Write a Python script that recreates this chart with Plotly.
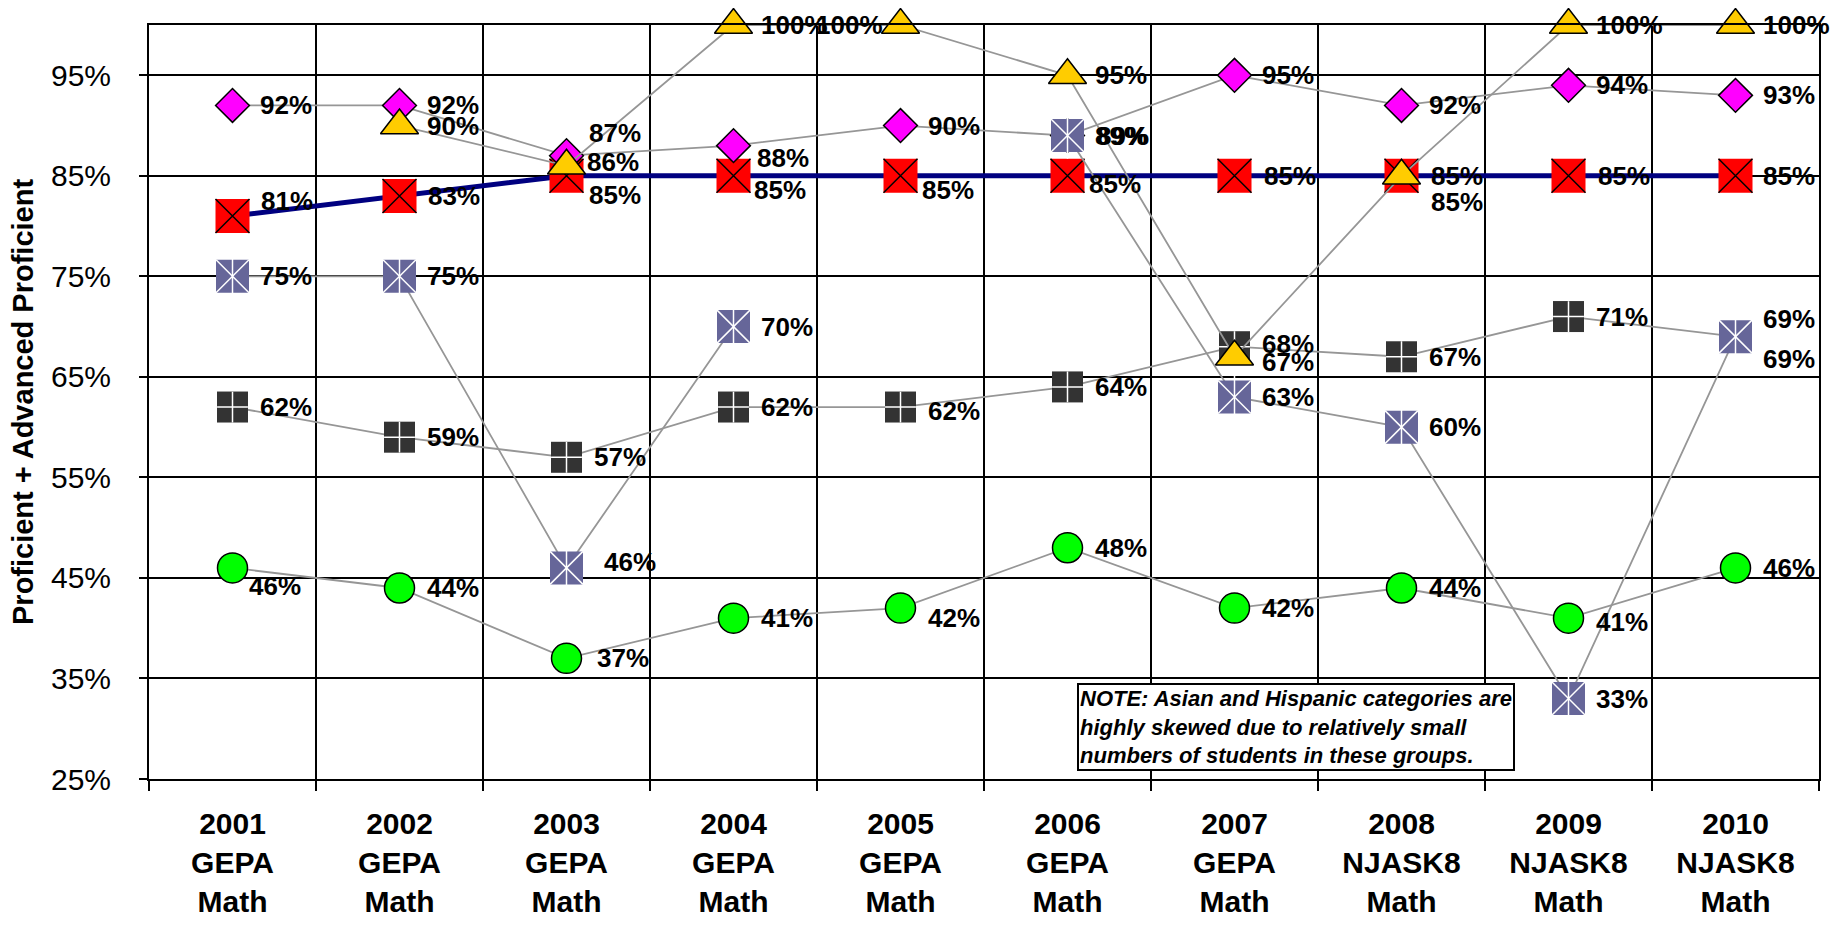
import plotly.graph_objects as go

# ---------------- data ----------------
years = ["2001", "2002", "2003", "2004", "2005", "2006", "2007", "2008", "2009", "2010"]
tests = ["GEPA", "GEPA", "GEPA", "GEPA", "GEPA", "GEPA", "GEPA", "NJASK8", "NJASK8", "NJASK8"]
subject = "Math"
categories = [f"{y}<br>{t}<br>{subject}" for y, t in zip(years, tests)]

total = [92, 92, 87, 88, 90, 89, 95, 92, 94, 93]
hispanic = [None, 90, 86, 100, 100, 95, 67, 85, 100, 100]
asian = [75, 75, 46, 70, None, 89, 63, 60, 33, 69]
black = [62, 59, 57, 62, 62, 64, 68, 67, 71, 69]
econ = [46, 44, 37, 41, 42, 48, 42, 44, 41, 46]
target = [81, 83, 85, 85, 85, 85, 85, 85, 85, 85]

y_ticks = [25, 35, 45, 55, 65, 75, 85, 95]

# ---------------- label offsets (pixels, style only) ----------------
D = 25
off_total = dict(dx=[D, D, 20, 21, D, D, D, D, D, D], dy=[0, 0, 23, -12, 0, 0, 0, 0, 0, 0])
off_hisp = dict(dx=[D, D, 18, D, -16, D, D, 27, D, D], dy=[0, 0, 4, 0, 0, 0, -5, -26, 0, 0])
off_asian = dict(dx=[D, D, 35, D, D, 27, D, D, D, D], dy=[0, 0, 6, 0, 0, 0, 0, 0, 0, 18])
off_black = dict(dx=[D] * 10, dy=[0, 0, 0, 0, -4, 0, 3, 0, 0, -22])
off_econ = dict(dx=[14, D, 28, D, D, D, D, D, D, D], dy=[-18, 0, 0, 0, -10, 0, 0, 0, -4, 0])
off_target = dict(dx=[26, 26, 20, 18, 19, 19, 27, 27, 27, 25], dy=[15, 0, -19, -14, -14, -8, 0, 0, 0, 0])
left_anchored_hisp = [4]  # index whose label sits to the left of the marker

GRAY = "#969696"
FONT = "Liberation Sans, Arial, sans-serif"

fig = go.Figure()

# Target (red squares with black X on navy line)
fig.add_trace(go.Scatter(x=categories, y=target, mode="lines+markers",
                         line=dict(color="#000080", width=5),
                         marker=dict(symbol="square", size=34, color="#FF0000", line=dict(width=0)),
                         cliponaxis=False, hoverinfo="skip"))
fig.add_trace(go.Scatter(x=categories, y=target, mode="markers",
                         marker=dict(symbol="x-thin", size=34, line=dict(color="black", width=1.5)),
                         cliponaxis=False, hoverinfo="skip"))

# Black (dark squares with white plus)
fig.add_trace(go.Scatter(x=categories, y=black, mode="lines+markers",
                         line=dict(color=GRAY, width=1.8),
                         marker=dict(symbol="square", size=31, color="#333333", line=dict(width=0)),
                         cliponaxis=False, hoverinfo="skip"))
fig.add_trace(go.Scatter(x=categories, y=black, mode="markers",
                         marker=dict(symbol="cross-thin", size=22, line=dict(color="white", width=1.5)),
                         cliponaxis=False, hoverinfo="skip"))

# Econ (green circles)
fig.add_trace(go.Scatter(x=categories, y=econ, mode="lines+markers",
                         line=dict(color=GRAY, width=1.8),
                         marker=dict(symbol="circle", size=30, color="#00FF00", line=dict(color="black", width=1.5)),
                         cliponaxis=False, hoverinfo="skip"))

# Total (magenta diamonds)
fig.add_trace(go.Scatter(x=categories, y=total, mode="lines+markers",
                         line=dict(color=GRAY, width=1.8),
                         marker=dict(symbol="diamond", size=26, color="#FF00FF", line=dict(color="black", width=1.5)),
                         cliponaxis=False, hoverinfo="skip"))

# Asian (lavender squares with white asterisk)
fig.add_trace(go.Scatter(x=categories, y=asian, mode="lines+markers",
                         line=dict(color=GRAY, width=1.8),
                         marker=dict(symbol="square", size=33, color="#666699", line=dict(width=0)),
                         cliponaxis=False, hoverinfo="skip"))
fig.add_trace(go.Scatter(x=categories, y=asian, mode="markers",
                         marker=dict(symbol="x-thin", size=33, line=dict(color="white", width=1.5)),
                         cliponaxis=False, hoverinfo="skip"))
fig.add_trace(go.Scatter(x=categories, y=asian, mode="markers",
                         marker=dict(symbol="line-ns", size=33, line=dict(color="white", width=1.5)),
                         cliponaxis=False, hoverinfo="skip"))

# Hispanic (gold triangles)
fig.add_trace(go.Scatter(x=categories, y=hispanic, mode="lines+markers",
                         line=dict(color=GRAY, width=1.8),
                         marker=dict(symbol="triangle-up", size=33, color="#FFCC00", line=dict(color="black", width=1.5)),
                         cliponaxis=False, hoverinfo="skip"))

# ---------------- data labels ----------------
annotations = []


def add_labels(vals, off, left_idx=()):
    for i, v in enumerate(vals):
        if v is None:
            continue
        annotations.append(dict(
            x=categories[i], y=v, xref="x", yref="y", text=f"<b>{v}%</b>", showarrow=False,
            xanchor="right" if i in left_idx else "left", yanchor="middle",
            xshift=off["dx"][i], yshift=off["dy"][i],
            font=dict(family=FONT, size=26, color="black")))


add_labels(target, off_target)
add_labels(black, off_black)
add_labels(econ, off_econ)
add_labels(total, off_total)
add_labels(asian, off_asian)
add_labels(hispanic, off_hisp, left_anchored_hisp)

annotations += [
    dict(text="<b>Proficient + Advanced Proficient</b>", textangle=-90,
         xref="paper", yref="paper", x=(23 - 149) / 1670, y=0.5,
         xanchor="center", yanchor="middle", showarrow=False,
         font=dict(family=FONT, size=29, color="black")),
    dict(text="<b><i>NOTE: Asian and Hispanic categories are<br>highly skewed due to relatively small<br>"
              "numbers of students in these groups.</i></b>",
         xref="paper", yref="paper", x=(1077 - 149) / 1670, y=(779 - 683) / 754,
         xanchor="left", yanchor="top", align="left", showarrow=False,
         bgcolor="white", bordercolor="black", borderwidth=2, borderpad=1,
         font=dict(family=FONT, size=22, color="black")),
]

fig.update_layout(
    width=1831, height=918,
    margin=dict(l=141, r=20, t=17, b=147, autoexpand=False),
    paper_bgcolor="white", plot_bgcolor="white",
    showlegend=False,
    font=dict(family=FONT, color="black"),
    xaxis=dict(type="category", tickson="boundaries", showgrid=True, gridcolor="black", gridwidth=1.5,
               ticks="outside", ticklen=10, tickcolor="black", tickwidth=1.5,
               showline=True, linecolor="black", linewidth=2, mirror=True,
               tickfont=dict(family=FONT, size=30, weight="bold", color="black"), zeroline=False,
               ticklabelstandoff=17, range=[-0.5, 9.5], automargin=False),
    yaxis=dict(range=[25, 100], tickvals=y_ticks, ticktext=[f"{v}%" for v in y_ticks],
               showgrid=True, gridcolor="black", gridwidth=1.5,
               ticks="outside", ticklen=8, tickcolor="black", tickwidth=1.5,
               showline=True, linecolor="black", linewidth=2, mirror=True,
               tickfont=dict(family=FONT, size=30, color="black"), zeroline=False,
               ticklabelstandoff=22, automargin=False),
    annotations=annotations,
)

fig.write_html("out.html")
